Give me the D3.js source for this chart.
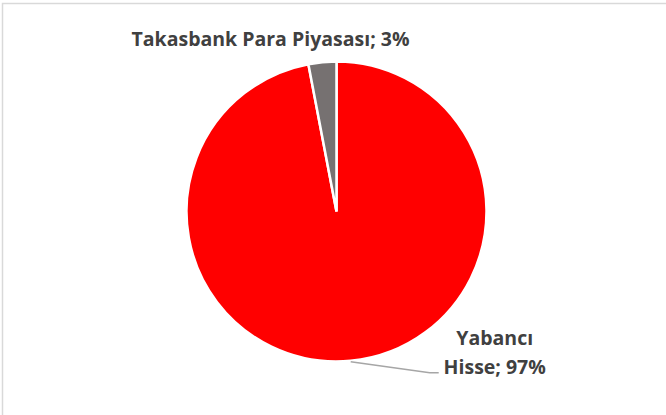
<!DOCTYPE html>
<html>
<head>
<meta charset="utf-8">
<script src="https://cdn.jsdelivr.net/npm/d3@7"></script>
<style>
  body { margin: 0; background: #fff; }
  text { font-family: "Open Sans", "Noto Sans", sans-serif; font-weight: bold; fill: #404040; }
</style>
</head>
<body>
<div id="chart"></div>
<script>
var categories = ["Yabancı Hisse", "Takasbank Para Piyasası"];
var values = [97, 3];
var colors = ["#ff0000", "#767171"];

var width = 666, height = 415;
var cx = 336.5, cy = 211.5, radius = 150;

var svg = d3.select("#chart").append("svg")
    .attr("width", width)
    .attr("height", height);

// chart border
svg.append("rect")
    .attr("x", 2.5).attr("y", 3.5)
    .attr("width", width).attr("height", height)
    .style("fill", "none")
    .style("stroke", "#d9d9d9")
    .style("stroke-width", 1.5);

var data = categories.map(function (c, i) {
    return {name: c, value: values[i], color: colors[i]};
});

// second slice ends at 12 o'clock, first slice starts there going clockwise
var pie = d3.pie()
    .sort(null)
    .value(function (d) { return d.value; });

var arcs = pie(data);

var arc = d3.arc().innerRadius(0).outerRadius(radius);

var g = svg.append("g").attr("transform", "translate(" + cx + "," + cy + ")");

g.selectAll("path")
    .data(arcs)
    .join("path")
    .attr("d", arc)
    .style("fill", function (d) { return d.data.color; })
    .style("stroke", "#fff")
    .style("stroke-width", 2.5);

// leader line for the big slice
var big = arcs[0];
var a0 = Math.PI * 0.97;
var p0 = [Math.sin(a0) * (radius + 1), -Math.cos(a0) * (radius + 1)];
g.append("polyline")
    .attr("points", [p0, [p0[0] + 79, p0[1] + 11], [p0[0] + 88, p0[1] + 11]].map(function (p) { return p.join(","); }).join(" "))
    .style("fill", "none")
    .style("stroke", "#a6a6a6")
    .style("stroke-width", 1.5);

var fmt = function (d) { return d.data.name + "; " + d.data.value + "%"; };

// label for big slice, wrapped in two lines
var bigLabel = g.append("text")
    .attr("text-anchor", "middle")
    .attr("x", p0[0] + 144)
    .attr("y", p0[1] - 17)
    .style("font-size", "19.5px");
bigLabel.append("tspan").text("Yabancı");
bigLabel.append("tspan").attr("x", p0[0] + 144).attr("dy", 29).text("Hisse; " + big.data.value + "%");

// label for small slice
var small = arcs[1];
g.append("text")
    .attr("text-anchor", "middle")
    .attr("x", -66)
    .attr("y", -radius - 16)
    .style("font-size", "19.5px")
    .text(fmt(small));
</script>
</body>
</html>
